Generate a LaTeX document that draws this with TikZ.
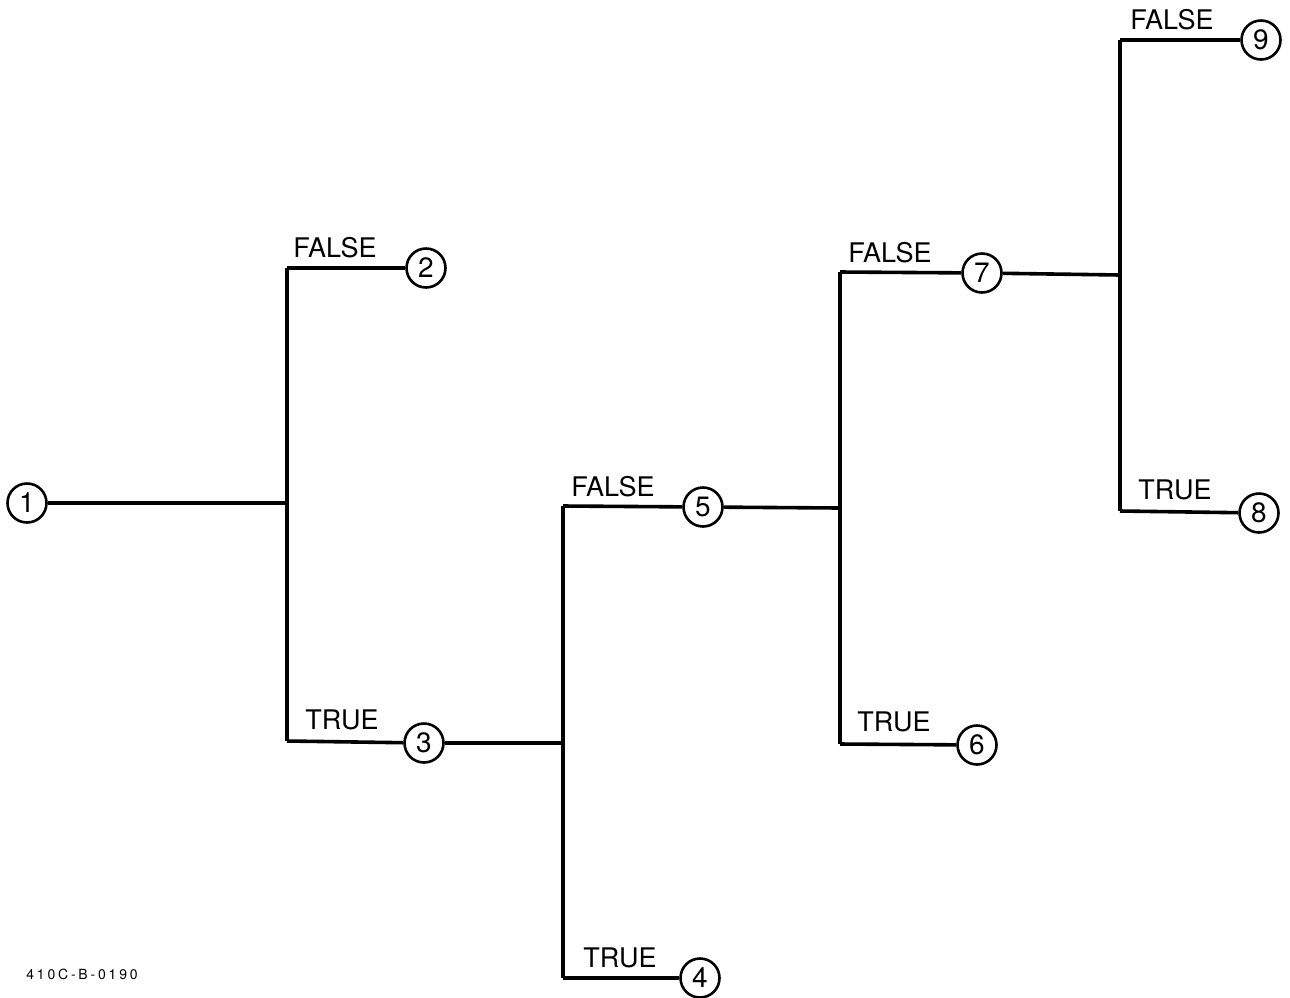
\documentclass[tikz,border=0pt]{standalone}
\usepackage{fontspec}
\setmainfont{TeX Gyre Heros}
\begin{document}
\begin{tikzpicture}[x=1pt,y=-1pt,
  num/.style={draw,circle,line width=2.6pt,minimum size=39pt,inner sep=0pt,font=\fontsize{28}{28}\selectfont},
  lbl/.style={font=\fontsize{27}{27}\selectfont,inner sep=0pt},
  wire/.style={line width=3.6pt}]
\useasboundingbox (0,0) rectangle (1290,997);
% nodes
\node[num] (n1) at (27,503) {1};
\node[num] (n2) at (426,268) {2};
\node[num] (n3) at (424,743) {3};
\node[num] (n4) at (700,978) {4};
\node[num] (n5) at (703,507) {5};
\node[num] (n6) at (977,745) {6};
\node[num] (n7) at (982,273) {7};
\node[num] (n8) at (1259,513) {8};
\node[num] (n9) at (1261,40) {9};
% junctions
\coordinate (j1) at (287,503);
\coordinate (t1) at (287,268);
\coordinate (b1) at (287,741);
\coordinate (j2) at (563,743);
\coordinate (t2) at (563,506);
\coordinate (b2) at (563,978);
\coordinate (j3) at (840,508);
\coordinate (t3) at (840,272);
\coordinate (b3) at (840,744);
\coordinate (j4) at (1120,275);
\coordinate (t4) at (1120,40);
\coordinate (b4) at (1120,511);
% wires
\draw[wire] (n1) -- (j1);
\draw[wire] (t1) -- (b1);
\draw[wire] (t1) -- (n2);
\draw[wire] (b1) -- (n3);
\draw[wire] (n3) -- (j2);
\draw[wire] (t2) -- (b2);
\draw[wire] (t2) -- (n5);
\draw[wire] (b2) -- (n4);
\draw[wire] (n5) -- (j3);
\draw[wire] (t3) -- (b3);
\draw[wire] (t3) -- (n7);
\draw[wire] (b3) -- (n6);
\draw[wire] (n7) -- (j4);
\draw[wire] (t4) -- (b4);
\draw[wire] (t4) -- (n9);
\draw[wire] (b4) -- (n8);
% labels
\node[lbl] (l2) at (335,248) {FALSE};
\node[lbl] (l3) at (342,720) {TRUE};
\node[lbl] (l5) at (613,487) {FALSE};
\node[lbl] (l4) at (620,958) {TRUE};
\node[lbl] (l7) at (890,253) {FALSE};
\node[lbl] (l6) at (894,722) {TRUE};
\node[lbl] (l9) at (1172,20) {FALSE};
\node[lbl] (l8) at (1175,490) {TRUE};
\node[font=\fontsize{14}{14}\selectfont\addfontfeature{LetterSpace=20},inner sep=0pt] (id) at (82,974) {410C-B-0190};
\end{tikzpicture}
\end{document}
